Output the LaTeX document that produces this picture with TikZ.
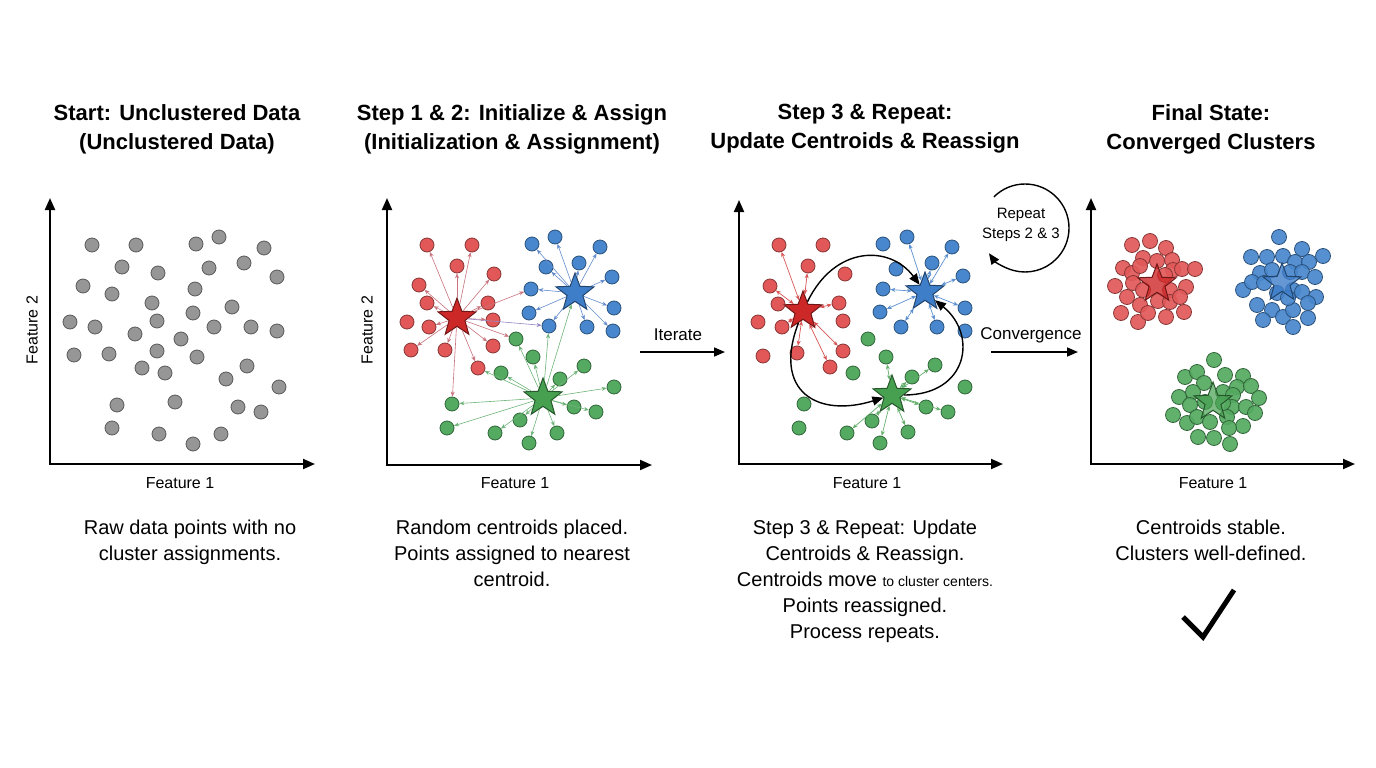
\documentclass[tikz,border=0pt]{standalone}
\usepackage{fontspec}
\setmainfont{Liberation Sans}
\usetikzlibrary{positioning, arrows.meta, shapes.geometric}

\definecolor{ptgray}{RGB}{150,150,150}
\definecolor{ptred}{RGB}{226,88,88}
\definecolor{ptblue}{RGB}{72,135,205}
\definecolor{ptgreen}{RGB}{84,170,96}
\definecolor{stred}{RGB}{205,40,40}
\definecolor{stblue}{RGB}{62,125,200}
\definecolor{stgreen}{RGB}{70,160,80}
\definecolor{lnkred}{RGB}{200,115,125}
\definecolor{lnkblue}{RGB}{100,140,205}
\definecolor{lnkgreen}{RGB}{110,180,120}
\definecolor{lnkpurple}{RGB}{150,135,195}

\begin{document}
\begin{tikzpicture}[x=1pt, y=-1pt,
    dot/.style={circle, inner sep=0pt, minimum size=14pt,
        line width=0.8pt, fill=#1, draw=#1!60!black},
    centroid/.style={star, star points=5, star point ratio=2.4,
        minimum size=40pt, inner sep=0pt,
        fill=#1, draw=#1!55!black, line width=1pt},
    link/.style={-{Stealth[length=5pt,width=4pt]}, line width=0.6pt, draw=#1},
    dlink/.style={{Stealth[length=5pt,width=4pt]}-{Stealth[length=5pt,width=4pt]},
        line width=0.7pt, draw=#1},
    axis/.style={{Triangle[length=12pt,width=10pt]}-{Triangle[length=12pt,width=10pt]},
        line width=2pt},
    flow/.style={-{Triangle[length=11pt,width=9pt]}, line width=1.6pt},
    move/.style={-{Triangle[length=11pt,width=9pt]}, line width=1.4pt},
    title/.style={font=\fontsize{22}{29}\selectfont\bfseries, align=center,
        anchor=north, inner sep=0pt},
    note/.style={font=\fontsize{20}{26}\selectfont, align=center,
        anchor=north, inner sep=0pt},
    axlabel/.style={font=\fontsize{16}{18}\selectfont}
]
\fill[white] (0,0) rectangle (1376,768);
\useasboundingbox (0,0) rectangle (1376,768);

% ===== TITLES =====
\node[title] (t1) at (177,104) {Start: Unclustered Data\\(Unclustered Data)};
\node[title] (t2) at (512,104) {Step 1 \& 2: Initialize \& Assign\\(Initialization \& Assignment)};
\node[title] (t3) at (865,104) {Step 3 \& Repeat:\\Update Centroids \& Reassign};
\node[title] (t4) at (1211,104) {Final State:\\Converged Clusters};

% ===== AXES =====
\coordinate (o1) at (50,464);
\coordinate (o2) at (387,465);
\coordinate (o3) at (739,464);
\coordinate (o4) at (1091,464);
\draw[axis] (50,198) -- (o1) -- (315,464);
\draw[axis] (387,198) -- (o2) -- (652,465);
\draw[axis] (739,200) -- (o3) -- (1003,464);
\draw[axis] (1091,198) -- (o4) -- (1355,464);

\node[axlabel] (x1) at (180,483) {Feature 1};
\node[axlabel] (x2) at (515,483) {Feature 1};
\node[axlabel] (x3) at (867,483) {Feature 1};
\node[axlabel] (x4) at (1213,483) {Feature 1};
\node[axlabel, rotate=90] (y1) at (32,330) {Feature 2};
\node[axlabel, rotate=90] (y2) at (367,330) {Feature 2};

% ===== PANEL 1: RAW POINTS =====
\foreach \x/\y [count=\i] in {92/245, 136/245, 196/244, 219/237, 264/248,
    122/267, 158/273, 209/268, 244/263, 277/277, 83/286, 112/294, 195/289,
    152/303, 232/307, 70/322, 95/327, 157/321, 193/313, 214/327, 251/327,
    277/331, 135/334, 181/339, 74/355, 109/354, 157/351, 197/357, 142/368,
    165/373, 226/379, 247/366, 279/387, 117/405, 175/402, 238/407, 261/412,
    112/428, 159/434, 193/444, 221/434}
    \node[dot=ptgray] (a\i) at (\x,\y) {};

% ===== PANEL 2: INITIALIZE & ASSIGN =====
\foreach \x/\y [count=\i] in {427/245, 472/245, 457/266, 494/274, 419/285,
    427/303, 488/303, 407/322, 429/327, 493/320, 411/350, 445/350, 493/346,
    478/368}
    \node[dot=ptred] (r2-\i) at (\x,\y) {};
\foreach \x/\y [count=\i] in {532/244, 555/237, 600/247, 546/267, 579/263,
    612/277, 531/289, 529/313, 549/326, 587/327, 614/308, 613/331}
    \node[dot=ptblue] (b2-\i) at (\x,\y) {};
\foreach \x/\y [count=\i] in {516/339, 533/357, 501/373, 560/379, 584/366,
    614/387, 452/404, 520/420, 574/407, 596/412, 447/428, 495/433, 529/443,
    557/433}
    \node[dot=ptgreen] (g2-\i) at (\x,\y) {};

\node[centroid=stred] (cr2) at (457,318) {};
\node[centroid=stblue] (cb2) at (575,293) {};
\node[centroid=stgreen] (cg2) at (543,398) {};

\foreach \i in {1,2,3,4,5,6,7,9,10,11,12,13,14}
    \draw[link=lnkred] (cr2) -- (r2-\i);
\foreach \i in {1,...,12}
    \draw[link=lnkblue] (cb2) -- (b2-\i);
\foreach \i in {1,...,14}
    \draw[link=lnkgreen] (cg2) -- (g2-\i);
\draw[link=lnkred] (cr2) -- (b2-7);
\draw[link=lnkpurple] (cr2) -- (b2-9);
\draw[link=lnkred] (cr2) -- (g2-1);
\draw[link=lnkred] (cr2) -- (g2-7);
\draw[link=lnkgreen] (cg2) -- (r2-14);
\draw[link=lnkgreen] (cg2) -- (b2-9);
\draw[link=lnkgreen] (cg2) -- (cb2);

% ===== ITERATE =====
\coordinate (it-s) at (640,352);
\coordinate (it-e) at (725,352);
\draw[flow] (it-s) -- (it-e);
\node[font=\fontsize{17}{20}\selectfont] (iterate) at (678,335) {Iterate};

% ===== PANEL 3: UPDATE & REASSIGN =====
\foreach \x/\y [count=\i] in {779/245, 823/245, 808/266, 845/274, 770/286,
    778/304, 839/303, 758/322, 782/327, 843/321, 763/356, 797/353, 843/351,
    830/367}
    \node[dot=ptred] (r3-\i) at (\x,\y) {};
\foreach \x/\y [count=\i] in {883/244, 907/237, 952/247, 896/269, 932/263,
    963/276, 883/289, 880/312, 901/327, 937/327, 965/308, 965/331}
    \node[dot=ptblue] (b3-\i) at (\x,\y) {};
\foreach \x/\y [count=\i] in {868/339, 886/357, 853/373, 912/377, 935/365,
    965/387, 804/404, 799/428, 872/421, 926/407, 948/412, 847/433, 880/443,
    908/432}
    \node[dot=ptgreen] (g3-\i) at (\x,\y) {};

\node[centroid=stred] (cr3) at (803,311) {};
\node[centroid=stblue] (cb3) at (925,292) {};
\node[centroid=stgreen] (cg3) at (892,395) {};

\foreach \i in {1,3,5,6,7,9,12,13,14}
    \draw[dlink=stred!80] (cr3) -- (r3-\i);
\foreach \i in {2,3,5,6,7,8,9,10,11}
    \draw[dlink=stblue!85] (cb3) -- (b3-\i);
\foreach \i in {2,4,5,9,10,11,12,13,14}
    \draw[dlink=stgreen!85] (cg3) -- (g3-\i);

\draw[move] (cr3) .. controls (835,245) and (890,245) .. (cb3);
\draw[move] (cr3) .. controls (772,392) and (818,418) .. (cg3);
\draw[move] (cg3) .. controls (968,395) and (978,335) .. (cb3);

% repeat loop
\coordinate (loopc) at (1025,228);
\node[font=\fontsize{15}{20}\selectfont, align=center] (repeat) at (1021,225)
    {Repeat\\Steps 2 \& 3};
\draw[move] ([shift={(135:44pt)}]loopc) arc[start angle=135, end angle=-145, radius=44pt];

% ===== CONVERGENCE =====
\coordinate (cv-s) at (991,352);
\coordinate (cv-e) at (1078,352);
\draw[flow] (cv-s) -- (cv-e);
\node[font=\fontsize{17}{20}\selectfont] (converge) at (1031,335) {Convergence};

% ===== PANEL 4: CONVERGED =====
\foreach \x/\y [count=\i] in {1132/245, 1150/241, 1166/248, 1143/258,
    1157/261, 1172/260, 1123/268, 1132/273, 1140/266, 1173/270, 1182/269,
    1195/269, 1115/286, 1133/283, 1143/290, 1165/275, 1170/290, 1186/287,
    1127/297, 1140/305, 1158/301, 1170/302, 1180/297, 1121/313, 1138/322,
    1148/313, 1166/317, 1184/312}
    \node[dot=ptred, minimum size=15pt, fill opacity=0.92] (r4-\i) at (\x,\y) {};
\foreach \x/\y [count=\i] in {1279/237, 1251/257, 1267/257, 1283/256,
    1302/249, 1323/256, 1295/262, 1309/262, 1260/273, 1272/270, 1290/272,
    1302/272, 1315/277, 1243/290, 1252/282, 1264/283, 1277/293, 1293/290,
    1302/292, 1316/297, 1257/305, 1272/310, 1283/317, 1293/310, 1308/303,
    1263/320, 1293/327, 1308/318, 1288/298}
    \node[dot=ptblue, minimum size=15pt, fill opacity=0.92] (b4-\i) at (\x,\y) {};
\foreach \x/\y [count=\i] in {1214/360, 1185/377, 1197/372, 1225/375,
    1243/376, 1204/383, 1237/387, 1251/386, 1179/397, 1193/392, 1223/392,
    1233/395, 1259/398, 1190/405, 1232/407, 1246/407, 1173/415, 1187/423,
    1197/417, 1210/422, 1227/417, 1243/426, 1255/413, 1198/437, 1214/438,
    1229/428, 1230/444, 1223/403, 1205/402}
    \node[dot=ptgreen, minimum size=15pt, fill opacity=0.92] (g4-\i) at (\x,\y) {};

\node[centroid=stred, fill opacity=0.8] (cr4) at (1157,284) {};
\node[centroid=stblue, fill opacity=0.8] (cb4) at (1282,283) {};
\node[centroid=stgreen, fill opacity=0.7] (cg4) at (1213,402) {};

% ===== NOTES =====
\node[note] (n1) at (190,520) {Raw data points with no\\cluster assignments.};
\node[note] (n2) at (512,520) {Random centroids placed.\\Points assigned to nearest\\centroid.};
\node[note] (n3) at (865,520) {Step 3 \& Repeat: Update\\Centroids \& Reassign.\\
    Centroids move {\fontsize{14}{26}\selectfont to cluster centers.}\\
    Points reassigned.\\Process repeats.};
\node[note] (n4) at (1211,520) {Centroids stable.\\Clusters well-defined.};

% check mark
\draw[line width=5pt] (1183,617) -- (1203,637) -- (1234,590);

\end{tikzpicture}
\end{document}
